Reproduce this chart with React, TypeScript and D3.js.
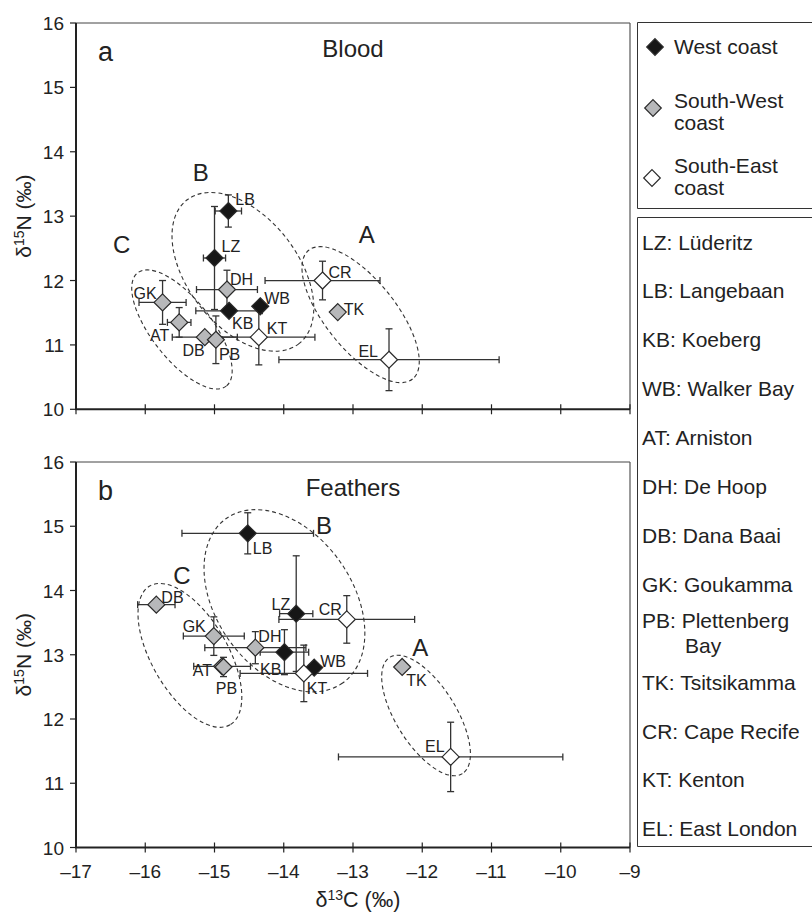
import React from 'react';
import * as d3 from 'd3';

// ---------- data ----------
const sites = ["LZ", "LB", "KB", "WB", "AT", "DH", "DB", "GK", "PB", "TK", "CR", "KT", "EL"];
const siteNames = ["Lüderitz", "Langebaan", "Koeberg", "Walker Bay", "Arniston", "De Hoop", "Dana Baai", "Goukamma", "Plettenberg|Bay", "Tsitsikamma", "Cape Recife", "Kenton", "East London"];
const siteRegion = ["W", "W", "W", "W", "SW", "SW", "SW", "SW", "SW", "SW", "SE", "SE", "SE"];
const regions = ["W", "SW", "SE"];
const regionLabels = ["West coast", "South-West|coast", "South-East|coast"];

// Blood (panel a)
const bloodC = [-15.0, -14.8, -14.79, -14.34, -15.51, -14.82, -15.14, -15.75, -14.98, -13.22, -13.44, -14.36, -12.48];
const bloodN = [12.35, 13.08, 11.53, 11.6, 11.35, 11.86, 11.12, 11.66, 11.08, 11.51, 12.0, 11.12, 10.77];
const bloodCerr = [0.16, 0.19, 0.48, 0, 0.17, 0.44, 0.47, 0.34, 0, 0, 0.83, 0.81, 1.59];
const bloodNerr = [0.8, 0.25, 0, 0, 0.23, 0.3, 0, 0.34, 0.37, 0, 0.3, 0.43, 0.48];

// Feathers (panel b)
const featherC = [-13.82, -14.52, -13.99, -13.56, -14.89, -14.41, -15.84, -15.01, -14.87, -12.29, -13.09, -13.71, -11.59];
const featherN = [13.64, 14.89, 13.04, 12.8, 12.82, 13.11, 13.78, 13.29, 12.81, 12.81, 13.55, 12.71, 11.41];
const featherCerr = [0.24, 0.95, 0.35, 0, 0.41, 0.73, 0.27, 0.44, 0, 0, 0.98, 0.92, 1.62];
const featherNerr = [0.9, 0.32, 0.35, 0, 0, 0.25, 0, 0.3, 0.15, 0, 0.37, 0.44, 0.54];

// Cluster groups: major-axis end points (data units) and label position
const groupNames = ["A", "B", "C"];
const bloodGroupAxis = [[-13.64, 12.47, -12.14, 10.47], [-15.4, 13.25, -13.78, 11.02], [-16.11, 12.12, -14.83, 10.36]];
const bloodGroupLabel = [[-12.8, 12.73], [-15.2, 13.68], [-16.34, 12.56]];
const featherGroupAxis = [[-12.47, 12.96, -11.42, 11.15], [-14.83, 15.12, -13.15, 12.56], [-15.935, 14.07, -14.775, 11.91]];
const featherGroupLabel = [[-12.03, 13.12], [-13.42, 15.02], [-15.47, 14.24]];

const xTicks = [-17, -16, -15, -14, -13, -12, -11, -10, -9];
const yTicks = [10, 11, 12, 13, 14, 15, 16];

// ---------- styling / layout ----------
const FONT = '"Liberation Sans", Arial, Helvetica, sans-serif';
const INK = '#222';
const L = 76, R = 630;
const fills: Record<string, string> = { W: '#161616', SW: '#b7b8ba', SE: '#ffffff' };
const groupMinor = { blood: [35, 55, 30], feather: [30, 68, 38] };

const bloodLabelPos: Record<string, [number, number, string]> = {
  LZ: [7, -6, 'start'], LB: [7, -6, 'start'], KB: [3, 18, 'start'], WB: [4, -2, 'start'],
  AT: [-10, 19, 'end'], DH: [3, -5, 'start'], DB: [0, 19, 'end'], GK: [-6, -3, 'end'],
  PB: [3, 20, 'start'], TK: [6, 3, 'start'], CR: [6, -3, 'start'], KT: [8, -3, 'start'], EL: [-11, -3, 'end'],
};
const featherLabelPos: Record<string, [number, number, string]> = {
  LZ: [-6, -4, 'end'], LB: [5, 21, 'start'], KB: [-3, 23, 'end'], WB: [6, -1, 'start'],
  AT: [-10, 10, 'end'], DH: [3, -6, 'start'], DB: [5, -2, 'start'], GK: [-8, -4, 'end'],
  PB: [3, 27, 'middle'], TK: [4, 19, 'start'], CR: [-5, -4, 'end'], KT: [3, 21, 'start'], EL: [-6, -5, 'end'],
};

const x = d3.scaleLinear().domain([-17, -9]).range([L, R]);

function diamond(cx: number, cy: number, h: number) {
  return `M${cx},${cy - h}L${cx + h},${cy}L${cx},${cy + h}L${cx - h},${cy}Z`;
}

type PanelProps = {
  top: number; bottom: number; letter: string; title: string;
  C: number[]; N: number[]; Ce: number[]; Ne: number[];
  gAxis: number[][]; gLabel: number[][]; gMinor: number[];
  labelPos: Record<string, [number, number, string]>;
  showXLabels: boolean;
};

function Panel(p: PanelProps) {
  const y = d3.scaleLinear().domain([10, 16]).range([p.bottom, p.top]);
  const cap = 3.5;
  const barColor = '#333';
  return (
    <g>
      <line x1={L} x2={R} y1={p.top} y2={p.top} stroke="#444" strokeWidth={1} />
      <line x1={R} x2={R} y1={p.top} y2={p.bottom} stroke="#555" strokeWidth={1.2} />
      <line x1={L} x2={L} y1={p.top} y2={p.bottom} stroke={INK} strokeWidth={2} />
      <line x1={L - 1} x2={R} y1={p.bottom} y2={p.bottom} stroke={INK} strokeWidth={2} />
      {yTicks.map(t => (
        <g key={'y' + t}>
          <line x1={L - 6} x2={L} y1={y(t)} y2={y(t)} stroke={INK} strokeWidth={1.2} />
          <text x={L - 12} y={y(t) + 7} textAnchor="end" fontSize={19} fill={INK}>{t}</text>
        </g>
      ))}
      {xTicks.map(t => (
        <g key={'x' + t}>
          <line x1={x(t)} x2={x(t)} y1={p.bottom - 5} y2={p.bottom + 5} stroke={INK} strokeWidth={1.2} />
          {p.showXLabels && (
            <text x={x(t)} y={p.bottom + 30} textAnchor="middle" fontSize={19} fill={INK}>{t < 0 ? '–' + Math.abs(t) : t}</text>
          )}
        </g>
      ))}
      <text x={98} y={p.top + 38} fontSize={27} fill={INK}>{p.letter}</text>
      <text x={(L + R) / 2} y={p.top + 34} textAnchor="middle" fontSize={24} fill={INK}>{p.title}</text>
      <text transform={`translate(31,${(p.top + p.bottom) / 2}) rotate(-90)`} textAnchor="middle" fontSize={21} fill={INK}>
        δ<tspan fontSize={14} dy={-7}>15</tspan><tspan dy={7}>N (‰)</tspan>
      </text>
      {p.gAxis.map((a, i) => {
        const x1 = x(a[0]), y1 = y(a[1]), x2 = x(a[2]), y2 = y(a[3]);
        const cx = (x1 + x2) / 2, cy = (y1 + y2) / 2;
        const rx = Math.hypot(x2 - x1, y2 - y1) / 2;
        const ang = (Math.atan2(y2 - y1, x2 - x1) * 180) / Math.PI;
        return (
          <ellipse key={'e' + i} cx={cx} cy={cy} rx={rx} ry={p.gMinor[i]}
            transform={`rotate(${ang},${cx},${cy})`} fill="none" stroke="#333"
            strokeWidth={1.1} strokeDasharray="4,3" />
        );
      })}
      {p.gLabel.map((g, i) => (
        <text key={'gl' + i} x={x(g[0])} y={y(g[1]) + 9} textAnchor="middle" fontSize={24} fill={INK}>{groupNames[i]}</text>
      ))}
      {sites.map((s, i) => {
        const cx = x(p.C[i]), cy = y(p.N[i]);
        const els: any[] = [];
        if (p.Ce[i] > 0) {
          const xa = x(p.C[i] - p.Ce[i]), xb = x(p.C[i] + p.Ce[i]);
          els.push(<line key="h" x1={xa} x2={xb} y1={cy} y2={cy} stroke={barColor} strokeWidth={1.3} />);
          els.push(<line key="hc1" x1={xa} x2={xa} y1={cy - cap} y2={cy + cap} stroke={barColor} strokeWidth={1.3} />);
          els.push(<line key="hc2" x1={xb} x2={xb} y1={cy - cap} y2={cy + cap} stroke={barColor} strokeWidth={1.3} />);
        }
        if (p.Ne[i] > 0) {
          const ya = y(p.N[i] - p.Ne[i]), yb = y(p.N[i] + p.Ne[i]);
          els.push(<line key="v" x1={cx} x2={cx} y1={ya} y2={yb} stroke={barColor} strokeWidth={1.3} />);
          els.push(<line key="vc1" x1={cx - cap} x2={cx + cap} y1={ya} y2={ya} stroke={barColor} strokeWidth={1.3} />);
          els.push(<line key="vc2" x1={cx - cap} x2={cx + cap} y1={yb} y2={yb} stroke={barColor} strokeWidth={1.3} />);
        }
        return <g key={'eb' + s}>{els}</g>;
      })}
      {sites.map((s, i) => (
        <path key={'m' + s} d={diamond(x(p.C[i]), y(p.N[i]), 8.5)} fill={fills[siteRegion[i]]} stroke="#2a2a2a" strokeWidth={1.2} />
      ))}
      {sites.map((s, i) => {
        const lp = p.labelPos[s];
        return (
          <text key={'t' + s} x={x(p.C[i]) + lp[0]} y={y(p.N[i]) + lp[1]} textAnchor={lp[2] as any} fontSize={16} fill={INK}>{s}</text>
        );
      })}
    </g>
  );
}

export default function App() {
  const legendMarkY = [47, 108, 178];
  const legendMarkX = [655, 653, 652];
  const legendTextY = [[54], [108, 130], [173, 195]];
  const keyBase = 249.5, keyStep = 48.9;
  return (
    <svg width={812} height={914} style={{ position: 'absolute', left: 0, top: 0, background: '#fff' }}
      fontFamily={FONT}>
      <rect x={0} y={0} width={812} height={914} fill="#fff" />
      <Panel top={23} bottom={409.3} letter="a" title="Blood" C={bloodC} N={bloodN} Ce={bloodCerr} Ne={bloodNerr}
        gAxis={bloodGroupAxis} gLabel={bloodGroupLabel} gMinor={groupMinor.blood} labelPos={bloodLabelPos} showXLabels={false} />
      <Panel top={462} bottom={847.5} letter="b" title="Feathers" C={featherC} N={featherN} Ce={featherCerr} Ne={featherNerr}
        gAxis={featherGroupAxis} gLabel={featherGroupLabel} gMinor={groupMinor.feather} labelPos={featherLabelPos} showXLabels={true} />
      <text x={358} y={907} textAnchor="middle" fontSize={21.5} fill={INK}>
        δ<tspan fontSize={14} dy={-7}>13</tspan><tspan dy={7}>C (‰)</tspan>
      </text>
      <path d="M830,22.5H637.5V208.5H830" fill="none" stroke="#333" strokeWidth={1} />
      {regions.map((r, i) => (
        <g key={'lg' + r}>
          <path d={diamond(legendMarkX[i], legendMarkY[i], 8.3)} fill={fills[r]} stroke="#2a2a2a" strokeWidth={1.2} />
          {regionLabels[i].split('|').map((ln, j) => (
            <text key={j} x={674} y={legendTextY[i][j]} fontSize={21} fill={INK}>{ln}</text>
          ))}
        </g>
      ))}
      <path d="M830,217.5H637.5V846.5H830" fill="none" stroke="#333" strokeWidth={1} />
      {sites.map((s, i) => {
        const parts = siteNames[i].split('|');
        const base = keyBase + i * keyStep;
        if (parts.length > 1) {
          return (
            <g key={'k' + s}>
              <text x={642} y={base - 12.5} fontSize={21} fill={INK}>{s}: {parts[0]}</text>
              <text x={685} y={base + 12.5} fontSize={21} fill={INK}>{parts[1]}</text>
            </g>
          );
        }
        return <text key={'k' + s} x={642} y={base} fontSize={21} fill={INK}>{s}: {parts[0]}</text>;
      })}
    </svg>
  );
}
